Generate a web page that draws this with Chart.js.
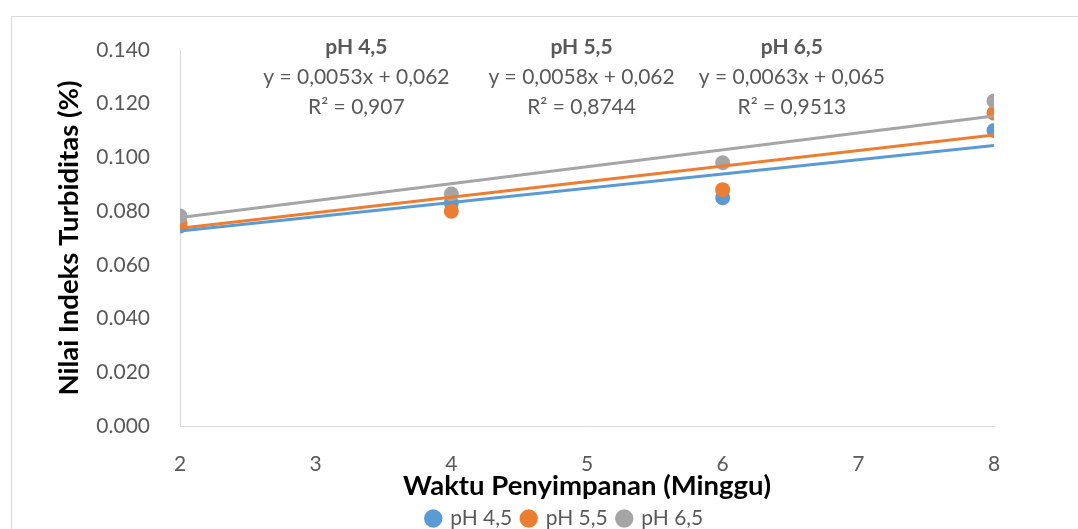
<!DOCTYPE html>
<html><head><meta charset="utf-8">
<script src="https://cdn.jsdelivr.net/npm/chart.js@4"></script>
<style>html,body{margin:0;padding:0;background:#fff}#wrap{width:1078px;height:529px;position:relative}</style>
</head><body><div id="wrap"><canvas id="c"></canvas></div>
<script>
const weeks = [2, 4, 6, 8];
const ph45 = [0.0745, 0.083, 0.085, 0.110];
const ph55 = [0.0756, 0.080, 0.088, 0.1165];
const ph65 = [0.0782, 0.0864, 0.098, 0.121];
const trendX = [2, 8];
const trend45 = [0.0726, 0.1044];
const trend55 = [0.0736, 0.1084];
const trend65 = [0.0776, 0.1154];
const seriesNames = ['pH 4,5', 'pH 5,5', 'pH 6,5'];
const equations = ['y = 0,0053x + 0,062', 'y = 0,0058x + 0,062', 'y = 0,0063x + 0,065'];
const rSquared = ['R² = 0,907', 'R² = 0,8744', 'R² = 0,9513'];
const labelX = [3.3, 4.96, 6.51];
const yTicks = [0, 0.02, 0.04, 0.06, 0.08, 0.1, 0.12, 0.14];

const colors = ['#5B9BD5', '#ED7D31', '#A5A5A5'];
const FONT = 'Lato, "Open Sans", sans-serif';
const pts = (xs, ys) => xs.map((x, i) => ({x: x, y: ys[i]}));

const series = [ph45, ph55, ph65];
const trends = [trend45, trend55, trend65];
const datasets = [];
series.forEach((s, i) => {
  datasets.push({label: seriesNames[i], type: 'scatter', data: pts(weeks, s),
    backgroundColor: colors[i], borderColor: colors[i], pointRadius: 7.5, pointHoverRadius: 7.5,
    borderWidth: 0, order: 3 - i});
});
trends.forEach((t, i) => {
  datasets.push({label: 'trend' + i, type: 'line', data: pts(trendX, t), borderColor: colors[i],
    borderWidth: 3, pointRadius: 0, fill: false, order: 0});
});

const deco = {
  id: 'deco',
  beforeDraw(chart) {
    const ctx = chart.ctx;
    ctx.save();
    ctx.fillStyle = '#fff';
    ctx.fillRect(0, 0, chart.width, chart.height);
    ctx.strokeStyle = '#d9d9d9';
    ctx.lineWidth = 1;
    ctx.strokeRect(11.5, 16.5, 1100, 600);
    ctx.restore();
  },
  afterDatasetsDraw(chart) {
    const ctx = chart.ctx;
    const xs = chart.scales.x;
    const top = chart.chartArea.top;
    ctx.save();
    ctx.textAlign = 'center';
    ctx.textBaseline = 'middle';
    ctx.fillStyle = '#595959';
    labelX.forEach((lx, i) => {
      const px = xs.getPixelForValue(lx);
      ctx.font = 'bold 21px ' + FONT;
      ctx.fillText(seriesNames[i], px, top - 3);
      ctx.font = '21px ' + FONT;
      ctx.fillText(equations[i], px, top + 27);
      ctx.fillText(rSquared[i], px, top + 57);
    });
    ctx.restore();
  }
};

new Chart(document.getElementById('c'), {
  data: {datasets: datasets},
  options: {
    responsive: true, maintainAspectRatio: false, animation: false,
    layout: {padding: {left: 52, right: 0, top: 50, bottom: -10}},
    plugins: {
      tooltip: {enabled: false},
      legend: {position: 'bottom',
        labels: {filter: (item) => item.datasetIndex < 3, sort: (a, b) => a.datasetIndex - b.datasetIndex,
          usePointStyle: true, pointStyle: 'circle',
          boxWidth: 13, boxHeight: 13, padding: 10, color: '#595959', font: {family: FONT, size: 21}}}
    },
    scales: {
      x: {type: 'linear', min: 2, max: 8,
        ticks: {stepSize: 1, color: '#595959', padding: 18, font: {family: FONT, size: 21}},
        grid: {display: false}, border: {display: true, color: '#d9d9d9', width: 1},
        title: {display: true, text: 'Waktu Penyimpanan (Minggu)', color: '#000',
          font: {family: FONT, size: 27.5, weight: 'bold'}, padding: {top: 0, bottom: -5}},
        afterFit(s) { s.height = 72; }
      },
      y: {type: 'linear', min: 0, max: 0.14,
        afterBuildTicks(s) { s.ticks = yTicks.map(v => ({value: v})); },
        ticks: {color: '#595959', padding: 22, font: {family: FONT, size: 21},
          callback: (v) => Number(v).toFixed(3)},
        grid: {display: false}, border: {display: true, color: '#d9d9d9', width: 1},
        title: {display: true, text: 'Nilai Indeks Turbiditas (%)', color: '#000',
          font: {family: FONT, size: 27.5, weight: 'bold'}, padding: {top: 1, bottom: 0}},
        afterFit(s) { s.width = 128; }
      },
      spacer: {type: 'linear', position: 'right', min: 0, max: 1, display: true,
        ticks: {display: false}, grid: {display: false}, border: {display: false},
        afterFit(s) { s.width = 84; }
      }
    }
  },
  plugins: [deco]
});
</script></body></html>
